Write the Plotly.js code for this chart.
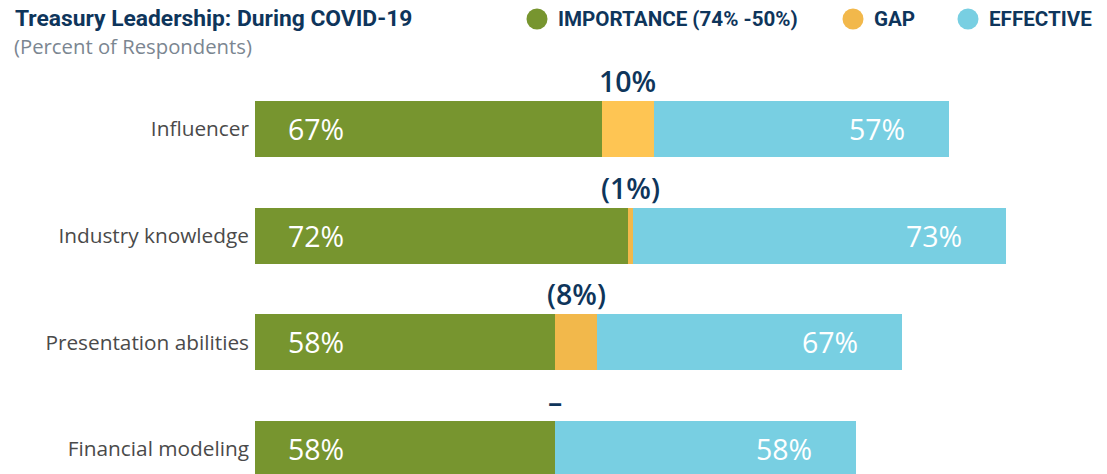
<!DOCTYPE html>
<html>
<head>
<meta charset="utf-8">
<script src="https://cdn.plot.ly/plotly-3.0.1.min.js"></script>
<style>
html,body{margin:0;padding:0;background:#fff;}
#chart{width:1107px;height:474px;}
</style>
</head>
<body>
<div id="chart"></div>
<script>
// ---- data ----
const categories = ["Influencer", "Industry knowledge", "Presentation abilities", "Financial modeling"];
const importance = [67, 72, 58, 58];
const gap = [10, -1, -8, 0];
const effective = [57, 73, 67, 58];
const gapLabels = ["10%", "(1%)", "(8%)", "\u2013"];
const legendLabels = ["IMPORTANCE (74% -50%)", "GAP", "EFFECTIVE"];

// ---- styles ----
const GREEN = "#77952F";
const GAP_COLORS = ["#FEC553", "#F2B84B", "#F2B84B", "#F2B84B"];
const BLUE = "#78CFE2";
const NAVY = "#0E355B";
const FONT = "'Open Sans', sans-serif";
const BOLD = "Roboto, sans-serif";

const W = 1107, H = 474;
const M = {l: 255, r: 0, t: 60, b: 0};
const pw = W - M.l - M.r, ph = H - M.t - M.b;
const px = x => (x - M.l) / pw;
const py = y => 1 - (y - M.t) / ph;

const gapWidth = gap.map(g => Math.abs(g));
const effWidth = effective.map((e, i) => e - Math.max(0, -gap[i]));
const totals = importance.map((v, i) => v + gapWidth[i] + effWidth[i]);

const traces = [
  {type: "bar", orientation: "h", y: categories, x: importance, marker: {color: GREEN}, hoverinfo: "skip", showlegend: false},
  {type: "bar", orientation: "h", y: categories, x: gapWidth, marker: {color: GAP_COLORS}, hoverinfo: "skip", showlegend: false},
  {type: "bar", orientation: "h", y: categories, x: effWidth, marker: {color: BLUE}, hoverinfo: "skip", showlegend: false}
];

const annotations = [];
categories.forEach((c, i) => {
  annotations.push({x: 0, y: c, xref: "x", yref: "y", text: importance[i] + "%", showarrow: false,
    xanchor: "left", xshift: 31, font: {family: FONT, size: 28.5, color: "#fff"}});
  annotations.push({x: totals[i], y: c, xref: "x", yref: "y", text: effective[i] + "%", showarrow: false,
    xanchor: "right", xshift: -42, font: {family: FONT, size: 28.5, color: "#fff"}});
  annotations.push({x: importance[i] + gapWidth[i] / 2, y: c, xref: "x", yref: "y", text: gapLabels[i], showarrow: false,
    xanchor: "center", yshift: 48, font: {family: FONT, size: 28.5, color: NAVY, weight: 600}});
});

// title & subtitle
annotations.push({x: px(13), y: py(18), xref: "paper", yref: "paper", xanchor: "left", yanchor: "middle", showarrow: false,
  text: "<b>Treasury Leadership: During COVID-19</b>", font: {family: BOLD, size: 22.8, color: NAVY}});
annotations.push({x: px(12), y: py(46), xref: "paper", yref: "paper", xanchor: "left", yanchor: "middle", showarrow: false,
  text: "(Percent of Respondents)", font: {family: FONT, size: 20.3, color: "#7B8691"}});

// legend
const legendColors = [GREEN, "#F2B84B", BLUE];
const legendCx = [537, 853, 968];
const shapes = [];
legendLabels.forEach((t, i) => {
  const cx = legendCx[i], cy = 19, r = 10.5;
  shapes.push({type: "circle", xref: "paper", yref: "paper", x0: px(cx - r), x1: px(cx + r), y0: py(cy + r), y1: py(cy - r),
    fillcolor: legendColors[i], line: {width: 0}});
  annotations.push({x: px(cx + 19), y: py(cy), xref: "paper", yref: "paper", xanchor: "left", yanchor: "middle", showarrow: false,
    text: "<b>" + t + "</b>", font: {family: BOLD, size: 20.6, color: NAVY}});
});

const layout = {
  width: W, height: H,
  margin: M,
  paper_bgcolor: "#fff", plot_bgcolor: "#fff",
  barmode: "stack", bargap: 0.475,
  showlegend: false,
  xaxis: {range: [0, pw / 5.178], visible: false, fixedrange: true},
  yaxis: {type: "category", range: [3.234, -0.647], showgrid: false, zeroline: false, showline: false,
    ticks: "", ticklabelstandoff: 5, tickfont: {family: FONT, size: 20.8, color: "#4A4A4A"}, fixedrange: true},
  annotations: annotations,
  shapes: shapes
};

Plotly.newPlot("chart", traces, layout, {displayModeBar: false, staticPlot: true});
</script>
</body>
</html>
